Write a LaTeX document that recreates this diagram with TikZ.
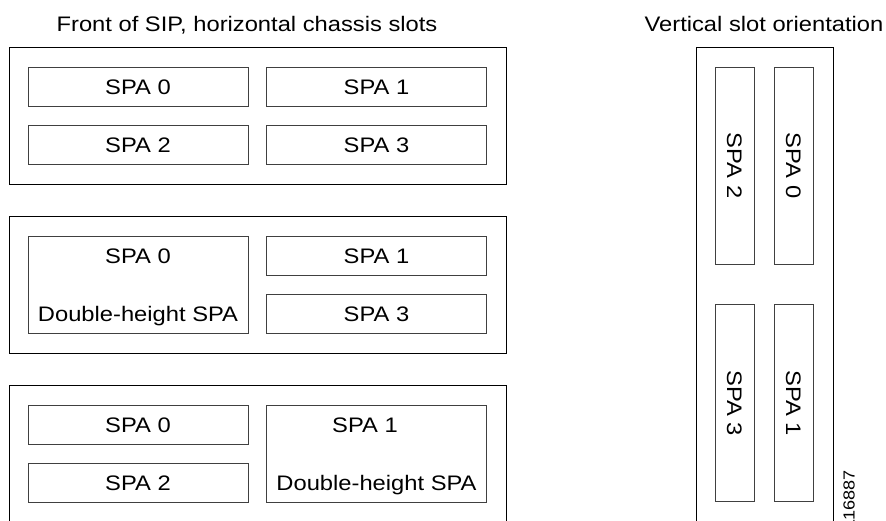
\documentclass[tikz,border=0pt]{standalone}
\usepackage{fontspec}
\setmainfont{Liberation Sans}[FakeStretch=1.13]
\usetikzlibrary{positioning}

\begin{document}
\begin{tikzpicture}[x=1pt,y=-1pt,
                    chassis/.style={draw=black,line width=0.8pt,inner sep=0pt},
                    slot/.style={draw=black!75,line width=0.8pt,inner sep=0pt,
                                 minimum width=220pt,minimum height=39pt,
                                 font=\fontsize{21}{25}\selectfont,text height=15pt,text depth=0pt},
                    vslot/.style={slot,rotate=-90,minimum width=197pt},
                    caption/.style={font=\fontsize{21}{25}\selectfont,anchor=base,inner sep=0pt}
                   ]
   \useasboundingbox (0,0) rectangle (886,520);

   % titles
   \node[caption] (t1) at (247,31) {Front of SIP, horizontal chassis slots};
   \node[caption] (t2) at (764,31) {Vertical slot orientation};

   % chassis frames
   \node[chassis,minimum width=497pt,minimum height=137pt] (c1) at (257.5,115.5) {};
   \node[chassis,minimum width=497pt,minimum height=137pt] (c2) at (257.5,284.5) {};
   \node[chassis,minimum width=497pt,minimum height=137pt] (c3) at (257.5,453.5) {};
   \node[chassis,minimum width=137pt,minimum height=475pt] (c4) at (764.5,284.5) {};

   % four single slots
   \node[slot] (a0) at (138,86.5) {SPA 0};
   \node[slot] (a1) at (376.5,86.5) {SPA 1};
   \node[slot] (a2) at (138,144.5) {SPA 2};
   \node[slot] (a3) at (376.5,144.5) {SPA 3};

   % double-height SPA 0
   \node[slot,minimum height=97pt] (b0) at (138,284.5) {};
   \node[slot,draw=none] (b0t) at (138,255.5) {SPA 0};
   \node[slot,draw=none] (b0h) at (138,313.5) {Double-height SPA};
   \node[slot] (b1) at (376.5,255.5) {SPA 1};
   \node[slot] (b3) at (376.5,313.5) {SPA 3};

   % double-height SPA 1
   \node[slot] (d0) at (138,424.5) {SPA 0};
   \node[slot] (d2) at (138,482.5) {SPA 2};
   \node[slot,minimum height=97pt] (d1) at (376.5,453.5) {};
   \node[slot,draw=none,minimum width=0pt] (d1t) at (365,424.5) {SPA 1};
   \node[slot,draw=none] (d1h) at (376.5,482.5) {Double-height SPA};

   % vertical slots
   \node[vslot] (v2) at (734.5,165.5) {SPA 2};
   \node[vslot] (v0) at (793.5,165.5) {SPA 0};
   \node[vslot] (v3) at (734.5,403) {SPA 3};
   \node[vslot] (v1) at (793.5,403) {SPA 1};

   \node[font=\fontsize{16}{19}\selectfont,inner sep=0pt,rotate=90,anchor=east] (id) at (849,470) {116887};
\end{tikzpicture}
\end{document}
